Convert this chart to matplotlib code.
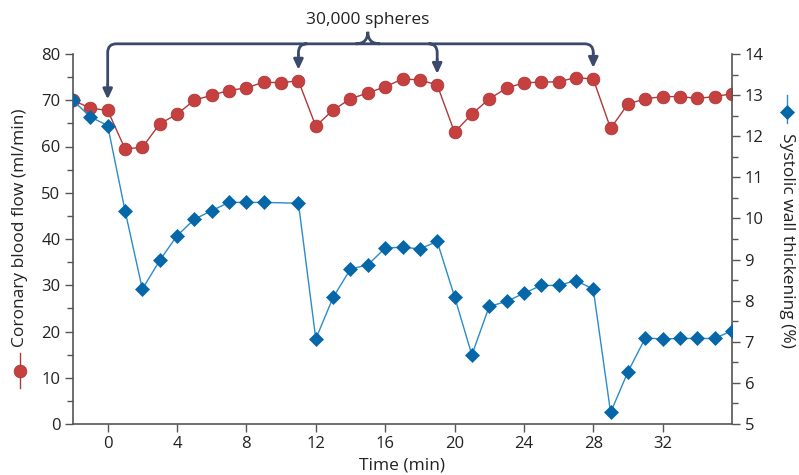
import matplotlib
matplotlib.use("Agg")
import matplotlib.pyplot as plt
import numpy as np
from matplotlib.lines import Line2D
from matplotlib.path import Path
from matplotlib.patches import PathPatch
from matplotlib.ticker import MultipleLocator

plt.rcParams["font.family"] = ["Open Sans", "DejaVu Sans"]

# coronary blood flow (ml/min), one reading per minute
flow_time = list(range(-2, 37))
flow = [70.0, 68.3, 67.8, 59.5, 59.8, 64.9, 67.0, 70.0, 71.1, 72.1, 72.7, 73.9,
        73.8, 74.2, 64.4, 67.9, 70.3, 71.6, 72.9, 74.6, 74.4, 73.3, 63.1, 67.0,
        70.3, 72.6, 73.8, 73.9, 74.0, 74.9, 74.6, 63.9, 69.2, 70.3, 70.8, 70.8,
        70.4, 70.8, 71.4]

# systolic wall thickening (%), no reading at t = 10
wall_time = [t for t in range(-2, 37) if t != 10]
wall = [12.87, 12.47, 12.26, 10.19, 8.28, 8.98, 9.58, 9.98, 10.19, 10.39, 10.39,
        10.39, 10.37, 7.07, 8.08, 8.77, 8.87, 9.28, 9.30, 9.26, 9.44, 8.10, 6.68,
        7.86, 7.98, 8.18, 8.37, 8.37, 8.49, 8.28, 5.28, 6.27, 7.09, 7.07, 7.08,
        7.08, 7.08, 7.27]

injection_times = [0, 11, 19, 28]
annotation_text = "30,000 spheres"

RED = "#c5403f"
RED_LINE = "#b03838"
BLUE = "#0567a8"
BLUE_LINE = "#2a8ccc"
SLATE = "#3b4a6b"
SPINE = "#555555"

W, H = 799, 475
fig = plt.figure(figsize=(W / 100, H / 100), dpi=100)
ax = fig.add_axes([73 / W, 1 - 424 / H, (732 - 73) / W, (424 - 54) / H])
ax2 = ax.twinx()

ax.plot(flow_time, flow, color=RED_LINE, lw=1.0, marker="o", ms=9.2,
        mfc=RED, mec="#a83434", mew=0.5, zorder=2)
ax2.plot(wall_time, wall, color=BLUE_LINE, lw=1.0, marker="D", ms=7.4,
         mfc=BLUE, mec=BLUE, mew=0.5, zorder=3)
ax.set_zorder(ax2.get_zorder() - 1)
ax.patch.set_visible(False)
ax2.patch.set_visible(False)

ax.set_xlim(-2, 36)
ax.set_ylim(0, 80)
ax2.set_ylim(5, 14)
ax.set_xticks(range(0, 36, 4))
ax.yaxis.set_major_locator(MultipleLocator(10))
ax.yaxis.set_minor_locator(MultipleLocator(5))
ax2.yaxis.set_major_locator(MultipleLocator(1))
ax2.yaxis.set_minor_locator(MultipleLocator(0.5))

for a in (ax, ax2):
    a.spines["top"].set_visible(False)
    for s in a.spines.values():
        s.set_color(SPINE)
        s.set_linewidth(1.2)
    a.tick_params(which="major", length=6, width=1, color=SPINE,
                  labelsize=12, labelcolor="#222222", pad=3)
    a.tick_params(which="minor", length=4, width=1, color=SPINE)
ax.spines["right"].set_visible(False)
ax2.spines["left"].set_visible(False)
ax2.spines["bottom"].set_visible(False)

fig.text(402 / W, 1 - 466 / H, "Time (min)", ha="center", va="center",
         fontsize=12.5, color="#222222")

# axis titles with their series key
fig.text(20 / W, 1 - 347 / H, "Coronary blood flow (ml/min)", rotation=90,
         ha="center", va="bottom", fontsize=12.5, color="#222222")
fig.add_artist(Line2D([20 / W, 20 / W], [1 - 353 / H, 1 - 388 / H],
                      transform=fig.transFigure, color=RED_LINE, lw=1.0))
fig.add_artist(Line2D([20 / W], [1 - 370.5 / H], transform=fig.transFigure,
                      marker="o", ms=9.2, mfc=RED, mec="#a83434", mew=0.5, lw=0))
fig.text(787 / W, 1 - 133 / H, "Systolic wall thickening (%)", rotation=-90,
         ha="center", va="top", fontsize=12.5, color="#222222")
fig.add_artist(Line2D([787 / W, 787 / W], [1 - 95 / H, 1 - 123 / H],
                      transform=fig.transFigure, color=BLUE_LINE, lw=1.0))
fig.add_artist(Line2D([787 / W], [1 - 112 / H], transform=fig.transFigure,
                      marker="D", ms=7.4, mfc=BLUE, mec=BLUE, mew=0.5, lw=0))

# bracket with arrows to each injection
bar_y = 82.2
rx, ry = 0.5, 1.9
first, last = injection_times[0], injection_times[-1]
mid = 15.0
tips = {t: flow[flow_time.index(t)] + 2.4 for t in injection_times}
verts = [(first, tips[first] + 3), (first, bar_y - ry), (first, bar_y),
         (first + rx, bar_y), (last - rx, bar_y), (last, bar_y),
         (last, bar_y - ry), (last, tips[last] + 3)]
codes = [Path.MOVETO, Path.LINETO, Path.CURVE3, Path.CURVE3, Path.LINETO,
         Path.CURVE3, Path.CURVE3, Path.LINETO]
for t in injection_times[1:-1]:
    side = rx if t < mid else -rx
    verts += [(t + side, bar_y), (t, bar_y), (t, bar_y - ry), (t, tips[t] + 3)]
    codes += [Path.MOVETO, Path.CURVE3, Path.CURVE3, Path.LINETO]
verts += [(mid - 0.7, bar_y), (mid, bar_y), (mid, bar_y + 2.6),
          (mid + 0.7, bar_y), (mid, bar_y), (mid, bar_y + 2.6)]
codes += [Path.MOVETO, Path.CURVE3, Path.CURVE3,
          Path.MOVETO, Path.CURVE3, Path.CURVE3]
ax.add_patch(PathPatch(Path(verts, codes), fill=False, ec=SLATE, lw=2.0,
                       clip_on=False, capstyle="butt", joinstyle="round"))
for t in injection_times:
    ax.annotate("", xy=(t, tips[t]), xytext=(t, tips[t] + 3.2),
                annotation_clip=False,
                arrowprops=dict(arrowstyle="-|>,head_length=0.6,head_width=0.28",
                                color=SLATE, lw=2.0, shrinkA=0, shrinkB=0))
ax.text(mid, 87.4, annotation_text, ha="center", va="center", fontsize=12.5,
        color="#222222", clip_on=False)

fig.savefig("out.png", dpi=100)
